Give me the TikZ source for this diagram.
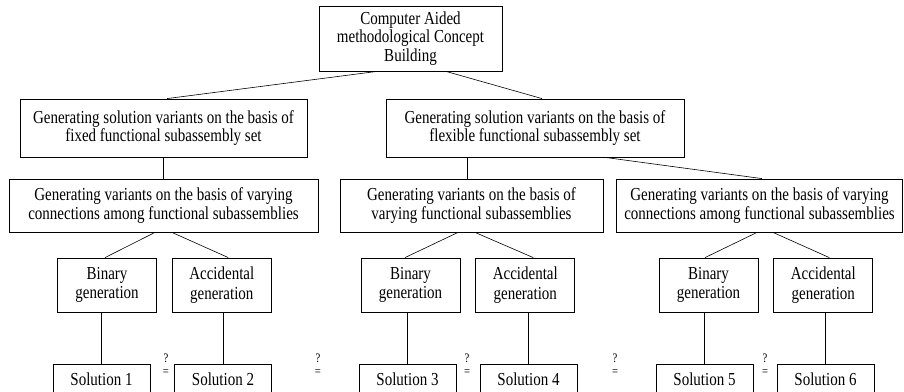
\documentclass[tikz,border=0pt]{standalone}
\usepackage{fontspec}
\setmainfont{Liberation Serif}[FakeStretch=0.82]
\usetikzlibrary{positioning}

\begin{document}
\begin{tikzpicture}[x=1pt, y=-1pt, node distance=15pt,
  main node/.style={rectangle,draw,line width=0.8pt,align=center,inner sep=0pt,font=\fontsize{18.3}{18.6}\selectfont},
  gen node/.style={main node,minimum width=99pt,minimum height=54pt,font=\fontsize{18.3}{19.5}\selectfont},
  sol node/.style={main node,minimum width=97pt,minimum height=30pt},
  eq node/.style={align=center,inner sep=0pt,font=\fontsize{13}{13}\selectfont}]

\useasboundingbox (0,0) rectangle (904,391);

\node[main node, minimum width=183pt, minimum height=65pt] (CAB) at (410.5,38.5) {Computer Aided\\methodological Concept\\Building};

\node[main node, minimum width=287pt, minimum height=58pt] (fixed) at (163.5,128) {Generating solution variants on the basis of\\fixed functional subassembly set};
\node[main node, minimum width=298pt, minimum height=58pt] (flex) at (535,128) {Generating solution variants on the basis of\\flexible functional subassembly set};

\node[main node, minimum width=309pt, minimum height=53pt] (conA) at (163.5,205.5) {Generating variants on the basis of varying\\connections among functional subassemblies};
\node[main node, minimum width=263pt, minimum height=53pt] (vary) at (471.5,205.5) {Generating variants on the basis of\\varying functional subassemblies};
\node[main node, minimum width=286pt, minimum height=53pt] (conB) at (759.5,205.5) {Generating variants on the basis of varying\\connections among functional subassemblies};

\node[gen node] (binA) at (107,285) {Binary\\generation};
\node[gen node] (accA) [right=of binA] {Accidental\\generation};
\node[gen node] (binB) at (410.5,285) {Binary\\generation};
\node[gen node] (accB) [right=of binB] {Accidental\\generation};
\node[gen node] (binC) at (708.5,285) {Binary\\generation};
\node[gen node] (accC) [right=of binC] {Accidental\\generation};

\node[sol node] (sol1) at (101.5,379) {Solution 1};
\node[sol node] (sol2) at (223,379) {Solution 2};
\node[sol node] (sol3) at (407.5,379) {Solution 3};
\node[sol node] (sol4) at (528.5,379) {Solution 4};
\node[sol node] (sol5) at (704.5,379) {Solution 5};
\node[sol node] (sol6) at (825.5,379) {Solution 6};

\node[eq node] (eq1) at (166,364.2) {?\\=};
\node[eq node] (eq2) at (318,364.2) {?\\=};
\node[eq node] (eq3) at (467,364.2) {?\\=};
\node[eq node] (eq4) at (615,364.2) {?\\=};
\node[eq node] (eq5) at (765,364.2) {?\\=};

\path[line width=0.6pt]
([xshift=-33.5pt]CAB.south) edge ([xshift=3.5pt]fixed.north)
([xshift=35.5pt]CAB.south) edge ([xshift=7pt]flex.north)
(fixed) edge (conA)
([xshift=-4.5pt]vary.north) edge ([xshift=-4.5pt]vary.north |- flex.south)
([xshift=70pt]flex.south) edge ([xshift=2.5pt]conB.north)
([xshift=-8.5pt]conA.south) edge ([xshift=-2pt]binA.north)
([xshift=8.5pt]conA.south) edge ([xshift=6.5pt]accA.north)
([xshift=-13.5pt]vary.south) edge ([xshift=-5.5pt]binB.north)
([xshift=3.5pt]vary.south) edge ([xshift=8pt]accB.north)
([xshift=-2.5pt]conB.south) edge ([xshift=-3.5pt]binC.north)
([xshift=13.5pt]conB.south) edge ([xshift=6pt]accC.north)
(sol1.north) edge (sol1.north |- binA.south)
(sol2.north) edge (sol2.north |- accA.south)
(sol3.north) edge (sol3.north |- binB.south)
(sol4.north) edge (sol4.north |- accB.south)
(sol5.north) edge (sol5.north |- binC.south)
(sol6.north) edge (sol6.north |- accC.south)
;

\end{tikzpicture}
\end{document}
